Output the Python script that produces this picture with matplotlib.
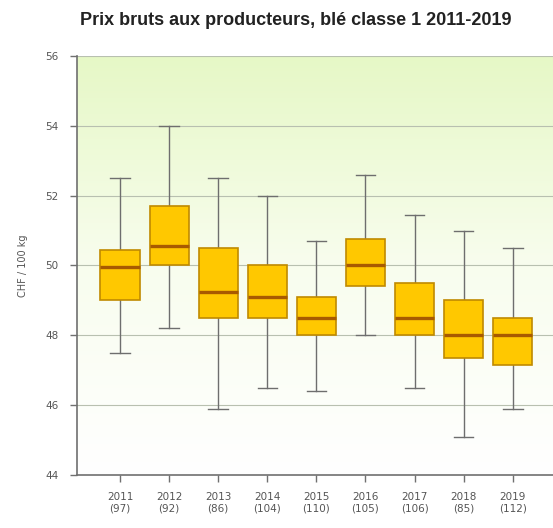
import matplotlib
matplotlib.use("Agg")
import matplotlib.pyplot as plt
import numpy as np
from matplotlib.colors import LinearSegmentedColormap

years = ["2011", "2012", "2013", "2014", "2015", "2016", "2017", "2018", "2019"]
counts = [97, 92, 86, 104, 110, 105, 106, 85, 112]
whisk_low = [47.5, 48.2, 45.9, 46.5, 46.4, 48.0, 46.5, 45.1, 45.9]
q1 = [49.0, 50.0, 48.5, 48.5, 48.0, 49.4, 48.0, 47.35, 47.15]
median = [49.95, 50.55, 49.25, 49.1, 48.5, 50.0, 48.5, 48.0, 48.0]
q3 = [50.45, 51.7, 50.5, 50.0, 49.1, 50.75, 49.5, 49.0, 48.5]
whisk_high = [52.5, 54.0, 52.5, 52.0, 50.7, 52.6, 51.45, 51.0, 50.5]
yticks = [44, 46, 48, 50, 52, 54, 56]

fig = plt.figure(figsize=(5.53, 5.28), dpi=100)
ax = fig.add_axes([0.139, 0.1004, 0.861, 0.7936])

# gradient background
cmap = LinearSegmentedColormap.from_list("bg", ["#ffffff", "#f8fdee", "#e6f8c6"])
grad = np.linspace(0, 1, 256).reshape(-1, 1)
ax.imshow(grad, aspect="auto", cmap=cmap, origin="lower",
          extent=[0.12, 9.82, 44, 56], zorder=0)

stats = []
for i in range(len(years)):
    stats.append(dict(whislo=whisk_low[i], q1=q1[i], med=median[i], q3=q3[i],
                      whishi=whisk_high[i], fliers=[]))
bp = ax.bxp(stats, positions=np.arange(1, len(years) + 1), widths=0.8,
            patch_artist=True, showfliers=False,
            boxprops=dict(facecolor="#ffc800", edgecolor="#c08a00", linewidth=1.2),
            medianprops=dict(color="#a85a00", linewidth=2.4),
            whiskerprops=dict(color="#6e6e6e", linewidth=1.0),
            capprops=dict(color="#6e6e6e", linewidth=1.0),
            capwidths=0.4)
for b in bp["boxes"]:
    b.set_zorder(3)
for m in bp["medians"]:
    m.set_zorder(4)
for w in bp["whiskers"] + bp["caps"]:
    w.set_zorder(2)

ax.set_xlim(0.12, 9.82)
ax.set_ylim(44, 56)
ax.set_yticks(yticks)
ax.set_yticklabels([str(t) for t in yticks])
ax.set_xticks(np.arange(1, len(years) + 1))
ax.set_xticklabels([f"{y}\n({c})" for y, c in zip(years, counts)])
ax.grid(axis="y", color="#b8c0b0", linewidth=0.8, zorder=1)
ax.set_axisbelow(True)
for s in ["top", "right"]:
    ax.spines[s].set_visible(False)
for s in ["left", "bottom"]:
    ax.spines[s].set_color("#707070")
    ax.spines[s].set_linewidth(1.2)
ax.tick_params(axis="both", colors="#707070", labelcolor="#555555",
               labelsize=7.5, length=5, width=1)
ax.tick_params(axis="x", pad=7)
ax.tick_params(axis="y", pad=8)
ax.set_ylabel("CHF / 100 kg", fontsize=7, color="#555555", labelpad=13)
fig.text(0.535, 0.962, "Prix bruts aux producteurs, blé classe 1 2011-2019",
         ha="center", va="center", fontsize=13, fontweight="bold",
         family=["Liberation Sans", "DejaVu Sans"], color="#222222")

fig.savefig("out.png", dpi=100)
